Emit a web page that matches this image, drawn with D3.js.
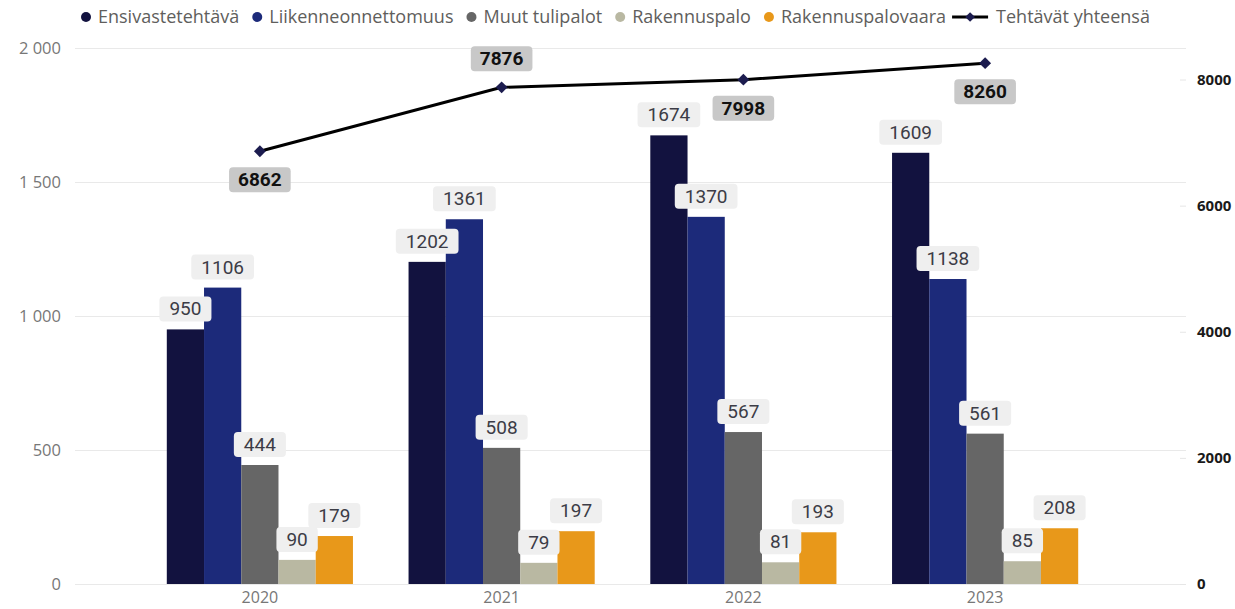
<!DOCTYPE html>
<html>
<head>
<meta charset="utf-8">
<script src="https://cdn.jsdelivr.net/npm/d3@7"></script>
<style>
  html, body { margin: 0; padding: 0; background: #ffffff; }
  svg { display: block; }
</style>
</head>
<body>
<svg id="chart" width="1235" height="609"></svg>
<script>
// ---- Data ----
const years = ["2020", "2021", "2022", "2023"];
const seriesNames = ["Ensivastetehtävä", "Liikenneonnettomuus", "Muut tulipalot", "Rakennuspalo", "Rakennuspalovaara"];
const ensivastetehtava = [950, 1202, 1674, 1609];
const liikenneonnettomuus = [1106, 1361, 1370, 1138];
const muutTulipalot = [444, 508, 567, 561];
const rakennuspalo = [90, 79, 81, 85];
const rakennuspalovaara = [179, 197, 193, 208];
const lineName = "Tehtävät yhteensä";
const tehtavatYhteensa = [6862, 7876, 7998, 8260];
const leftTicks = [0, 500, 1000, 1500, 2000];
const rightTicks = [0, 2000, 4000, 6000, 8000];

// ---- Styles ----
const colors = ["#12123f", "#1c2a7a", "#666666", "#b9b8a2", "#e8981a"];
const lineLabelSide = ["below", "above", "below", "below"];
const uiFont = "'Open Sans', 'Noto Sans', sans-serif";
const labelFont = "Roboto, 'Noto Sans', sans-serif";

const seriesValues = [ensivastetehtava, liikenneonnettomuus, muutTulipalot, rakennuspalo, rakennuspalovaara];

const svg = d3.select("#chart");

const plotLeft = 75, plotRight = 1186, plotTop = 48, plotBottom = 584;

const x0 = d3.scaleBand().domain(years).range([139, 1106]).paddingInner(0.23).paddingOuter(0.115);
const x1 = d3.scaleBand().domain(seriesNames).range([0, x0.bandwidth()]);
const yL = d3.scaleLinear().domain([0, 2000]).range([plotBottom, plotTop]);
const yR = d3.scaleLinear().domain([0, 8500]).range([plotBottom, plotTop]);

// gridlines
const fmtLeft = v => d3.format(",")(v).replace(/,/g, " ");
svg.append("g").selectAll("line").data(leftTicks).join("line")
  .attr("x1", plotLeft).attr("x2", plotRight)
  .attr("y1", d => yL(d) + 0.5).attr("y2", d => yL(d) + 0.5)
  .attr("stroke", "#e9e9e9").attr("stroke-width", 1);

// left axis
const leftAxis = d3.axisLeft(yL).tickValues(leftTicks).tickFormat(fmtLeft).tickSize(0).tickPadding(0);
const gL = svg.append("g").attr("transform", `translate(61,0)`).call(leftAxis);
gL.select(".domain").remove();
gL.selectAll("text").attr("font-family", uiFont).attr("font-size", 16.5).attr("fill", "#777777");

// right axis
const rightAxis = d3.axisRight(yR).tickValues(rightTicks).tickFormat(d3.format("d")).tickSize(6).tickPadding(11);
const gR = svg.append("g").attr("transform", `translate(1180,0)`).call(rightAxis);
gR.select(".domain").remove();
gR.selectAll("line").attr("stroke", "#e6e6e6");
gR.selectAll("text").attr("font-family", uiFont).attr("font-size", 15).attr("font-weight", 700).attr("fill", "#1a1a1a");

// x axis
const xAxis = d3.axisBottom(x0).tickSize(0).tickPadding(8);
const gX = svg.append("g").attr("transform", `translate(0,${plotBottom})`).call(xAxis);
gX.select(".domain").remove();
gX.selectAll("text").attr("font-family", uiFont).attr("font-size", 16).attr("fill", "#777777");

// bars
const barData = [];
years.forEach((yr, i) => {
  seriesNames.forEach((s, j) => {
    barData.push({ year: yr, series: s, value: seriesValues[j][i], color: colors[j] });
  });
});

const gBars = svg.append("g");
gBars.selectAll("rect").data(barData).join("rect")
  .attr("x", d => x0(d.year) + x1(d.series))
  .attr("y", d => yL(d.value))
  .attr("width", x1.bandwidth())
  .attr("height", d => yL(0) - yL(d.value))
  .attr("fill", d => d.color);

// bar labels
const gBL = svg.append("g");
barData.forEach(d => {
  const cx = x0(d.year) + x1(d.series) + x1.bandwidth() / 2;
  const boxBottom = yL(d.value) - 8;
  const g = gBL.append("g");
  const rect = g.append("rect").attr("fill", "#efefef").attr("rx", 4).attr("ry", 4);
  const t = g.append("text").attr("x", cx).attr("y", boxBottom - 6)
    .attr("text-anchor", "middle").attr("font-family", labelFont).attr("font-size", 19)
    .attr("fill", "#3c3c46").text(d.value);
  const w = t.node().getComputedTextLength() + 20;
  rect.attr("x", cx - w / 2).attr("y", boxBottom - 25).attr("width", w).attr("height", 25);
});

// line
const lineData = years.map((yr, i) => ({ year: yr, value: tehtavatYhteensa[i], side: lineLabelSide[i] }));
const xc = yr => x0(yr) + x0.bandwidth() / 2;
const line = d3.line().x(d => xc(d.year)).y(d => yR(d.value));
svg.append("path").datum(lineData).attr("d", line)
  .attr("fill", "none").attr("stroke", "#000000").attr("stroke-width", 3);

const diamond = d3.symbol().type(d3.symbolDiamond2).size(90);
svg.append("g").selectAll("path").data(lineData).join("path")
  .attr("transform", d => `translate(${xc(d.year)},${yR(d.value)})`)
  .attr("d", diamond).attr("fill", "#1c1c4f");

// line labels
const gLL = svg.append("g");
lineData.forEach(d => {
  const cx = xc(d.year);
  const py = yR(d.value);
  const boxTop = d.side === "above" ? py - 16 - 25 : py + 16;
  const g = gLL.append("g");
  const rect = g.append("rect").attr("fill", "#c8c8c8").attr("rx", 4).attr("ry", 4);
  const t = g.append("text").attr("x", cx).attr("y", boxTop + 19)
    .attr("text-anchor", "middle").attr("font-family", labelFont).attr("font-size", 19)
    .attr("font-weight", 700).attr("fill", "#111111").text(d.value);
  const w = t.node().getComputedTextLength() + 18;
  rect.attr("x", cx - w / 2).attr("y", boxTop).attr("width", w).attr("height", 25);
});

// legend
const gLeg = svg.append("g");
let lx = 86;
const ly = 17;
seriesNames.forEach((s, j) => {
  gLeg.append("circle").attr("cx", lx).attr("cy", ly).attr("r", 5).attr("fill", colors[j]);
  const t = gLeg.append("text").attr("x", lx + 12).attr("y", ly + 6)
    .attr("font-family", uiFont).attr("font-size", 18).attr("fill", "#605e5c").text(s);
  lx = lx + 12 + t.node().getComputedTextLength() + 18;
});
lx -= 12;
gLeg.append("line").attr("x1", lx).attr("x2", lx + 36).attr("y1", ly).attr("y2", ly)
  .attr("stroke", "#000").attr("stroke-width", 3);
gLeg.append("path").attr("transform", `translate(${lx + 18},${ly})`)
  .attr("d", d3.symbol().type(d3.symbolDiamond2).size(60)).attr("fill", "#1c1c4f");
gLeg.append("text").attr("x", lx + 44).attr("y", ly + 6)
  .attr("font-family", uiFont).attr("font-size", 18).attr("fill", "#605e5c").text(lineName);
</script>
</body>
</html>
